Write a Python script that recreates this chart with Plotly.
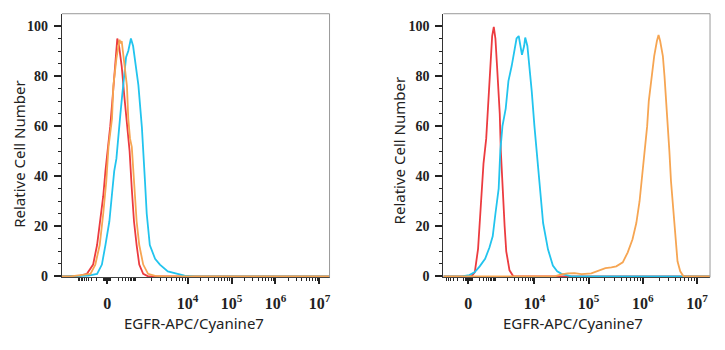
import numpy as np
import plotly.graph_objects as go

# ---------------- data (x in biexponential display units: 4 = 10^4, ... ; y = % of max) -------------
# Left panel
L_red_x = [1.14, 1.38, 1.56, 1.71, 1.85, 1.94, 2.01, 2.08, 2.13, 2.18, 2.24, 2.31, 2.35, 2.40, 2.44,
           2.50, 2.56, 2.62, 2.68, 2.73, 2.78, 2.84, 2.90, 2.99, 3.10, 3.37, 7.23]
L_red_y = [0, 0, 0.3, 1, 4.7, 12.5, 22, 32, 42, 50, 60, 75, 85, 95, 92,
           84, 72, 60, 50, 35, 22, 12.5, 4.7, 1, 0, 0, 0]

L_org_x = [1.14, 1.34, 1.56, 1.79, 1.90, 2.00, 2.08, 2.15, 2.20, 2.28, 2.31, 2.38, 2.45, 2.48, 2.50,
           2.54, 2.62, 2.65, 2.69, 2.73, 2.78, 2.84, 2.90, 2.99, 3.10, 3.26, 3.48, 7.23]
L_org_y = [0, 0, 0.5, 1, 4.7, 12.5, 25, 38, 51.7, 63, 76, 87, 94.5, 93, 94,
           88, 76, 63, 55, 51.7, 38, 22, 12.5, 4.7, 1, 0.2, 0, 0]

L_cyn_x = [1.14, 1.45, 1.74, 1.94, 2.05, 2.13, 2.22, 2.28, 2.33, 2.38, 2.41, 2.47, 2.51, 2.56, 2.60,
           2.65, 2.71, 2.76, 2.80, 2.88, 2.96, 2.98, 3.03, 3.07, 3.14, 3.26, 3.37, 3.55, 3.75, 3.93,
           4.16, 7.23]
L_cyn_y = [0, 0, 0.3, 1, 4.7, 12.5, 22, 33, 42, 47, 52, 64.7, 72, 80, 87.5,
           90, 95, 92, 87, 76.4, 59.5, 51.7, 38, 25, 12.5, 7, 4.7, 2, 1, 0.3,
           0, 0]

# Right panel
R_red_x = [2.32, 2.84, 2.90, 2.96, 3.01, 3.06, 3.11, 3.15, 3.18, 3.22, 3.25, 3.28, 3.31, 3.36,
           3.38, 3.41, 3.45, 3.48, 3.54, 3.61, 7.24]
R_red_y = [0, 0, 1.7, 11, 28, 45, 55, 72, 84, 96, 99.6, 95, 84, 65,
           50, 35, 20, 10, 2.4, 0, 0]

R_cyn_x = [2.32, 2.66, 2.80, 2.90, 2.99, 3.09, 3.17, 3.23, 3.28, 3.34, 3.37, 3.41, 3.47, 3.52,
           3.58, 3.63, 3.67, 3.71, 3.74, 3.77, 3.81, 3.83, 3.87, 3.91, 3.95, 4.00, 4.06, 4.10,
           4.16, 4.25, 4.34, 4.42, 4.50, 4.68, 7.24]
R_cyn_y = [0, 0, 0.5, 1.7, 4, 7, 11.5, 16, 25, 35, 50, 60, 67, 78,
           84, 90, 95, 96, 92, 88.5, 92, 95.4, 92, 84, 74, 60, 45, 35,
           21.3, 10.8, 4.3, 2, 1, 0, 0]

R_org_x = [2.32, 4.37, 4.50, 4.61, 4.74, 4.87, 5.05, 5.18, 5.31, 5.42, 5.51, 5.63, 5.72, 5.81,
           5.88, 5.94, 5.99, 6.04, 6.08, 6.11, 6.16, 6.21, 6.26, 6.29, 6.32, 6.37, 6.40, 6.45,
           6.49, 6.52, 6.58, 6.64, 6.69, 6.75, 7.24]
R_org_y = [0, 0, 0.8, 1.2, 1.3, 0.9, 1.2, 2.3, 3.3, 3.6, 4, 5.6, 9.5, 14.8,
           21.3, 30, 40, 50, 60, 70, 80, 88, 94, 96.4, 94, 88, 80, 65,
           50, 38, 20, 6, 2, 0, 0]

y_ticks = [0, 20, 40, 60, 80, 100]
x_labels = ["0", "10<sup>4</sup>", "10<sup>5</sup>", "10<sup>6</sup>", "10<sup>7</sup>"]

# ---------------- style ----------------
RED = "#EC3B3F"
ORANGE = "#F6A552"
CYAN = "#22C4EE"
DARK = "#222222"

def minor_ticks(zero, p3, xmin):
    vals = []
    for d in range(4, 7):
        for k in range(2, 10):
            vals.append(d + np.log10(k))
    for k in range(2, 10):
        vals.append(p3 + np.log10(k) * (4 - p3))
    vals.append(p3)
    p2 = zero + 0.08
    for k in range(2, 10):
        off = p2 + np.log10(k) * (p3 - p2) - zero
        vals.append(zero + off)
        vals.append(zero - off)
    for o in [0.02, 0.04, 0.06, 0.08]:
        vals.append(zero + o)
        vals.append(zero - o)
    vals.append(zero - (p3 - zero))
    return sorted(v for v in vals if v > xmin + 0.05)

fig = go.Figure()
panels = [
    ("x", "y", [(L_red_x, L_red_y, RED), (L_cyn_x, L_cyn_y, CYAN), (L_org_x, L_org_y, ORANGE)]),
    ("x2", "y2", [(R_red_x, R_red_y, RED), (R_cyn_x, R_cyn_y, CYAN), (R_org_x, R_org_y, ORANGE)]),
]
for xa, ya, series in panels:
    for xs, ys, col in series:
        fig.add_trace(go.Scatter(x=xs, y=ys, xaxis=xa, yaxis=ya, mode="lines",
                                 line=dict(color=col, width=1.8), showlegend=False,
                                 hoverinfo="skip"))

ydom = [1 - 283 / 350, 1 - 14 / 350]
xdom_l = [62 / 725, 330 / 725]
xdom_r = [444 / 725, 711 / 725]
zero_l, p3_l, rng_l = 2.17, 2.82, [1.14, 7.23]
zero_r, p3_r, rng_r = 2.78, 3.28, [2.32, 7.24]

tickfont = dict(family="Liberation Serif", size=16, color=DARK)
yfont = dict(family="Liberation Serif", size=14, color=DARK)

def xaxis(dom, rng, zero, p3, anchor):
    return dict(domain=dom, range=rng, anchor=anchor, showgrid=False, zeroline=False,
                showline=True, linecolor="#444", linewidth=1,
                tickmode="array", tickvals=[zero, 4, 5, 6, 7],
                ticktext=["<b>" + t + "</b>" for t in x_labels],
                ticks="outside", ticklen=6, tickwidth=2, tickcolor=DARK,
                tickfont=tickfont, ticklabelstandoff=5,
                minor=dict(tickmode="array", tickvals=minor_ticks(zero, p3, rng[0]),
                           ticks="outside", ticklen=3, tickwidth=1, tickcolor=DARK))

def yaxis(anchor):
    return dict(domain=ydom, range=[-0.4, 104.9], anchor=anchor, showgrid=False, zeroline=False,
                showline=True, linecolor="#333", linewidth=1.2,
                tickmode="array", tickvals=y_ticks,
                ticktext=["<b>" + str(v) + "</b>" for v in y_ticks],
                ticks="outside", ticklen=7, tickwidth=2, tickcolor=DARK,
                tickfont=yfont, ticklabelstandoff=3,
                minor=dict(tickmode="linear", tick0=0, dtick=5, ticks="outside",
                           ticklen=3, tickwidth=1, tickcolor=DARK))

fig.update_layout(
    width=725, height=350, margin=dict(l=0, r=0, t=0, b=0),
    paper_bgcolor="white", plot_bgcolor="white",
    xaxis=xaxis(xdom_l, rng_l, zero_l, p3_l, "y"),
    yaxis=yaxis("x"),
    xaxis2=xaxis(xdom_r, rng_r, zero_r, p3_r, "y2"),
    yaxis2=yaxis("x2"),
)

for xr, yr in [("x domain", "y domain"), ("x2 domain", "y2 domain")]:
    fig.add_shape(type="line", xref=xr, yref=yr, x0=0, x1=1, y0=1, y1=1,
                  line=dict(color="#999", width=1))
    fig.add_shape(type="line", xref=xr, yref=yr, x0=1, x1=1, y0=0, y1=1,
                  line=dict(color="#999", width=1))

titlefont = dict(family="Noto Sans", size=15, color="#222")
for xc, yc in [(19, 157), (399, 153)]:
    fig.add_annotation(text="Relative Cell Number", x=xc / 725, y=1 - yc / 350,
                       xref="paper", yref="paper", showarrow=False, textangle=-90,
                       font=titlefont, xanchor="center", yanchor="middle")
for xc, yc in [(194, 330), (574, 330)]:
    fig.add_annotation(text="EGFR-APC/Cyanine7", x=xc / 725, y=1 - yc / 350,
                       xref="paper", yref="paper", showarrow=False,
                       font=titlefont, xanchor="center", yanchor="middle")

fig.write_html("out.html")
